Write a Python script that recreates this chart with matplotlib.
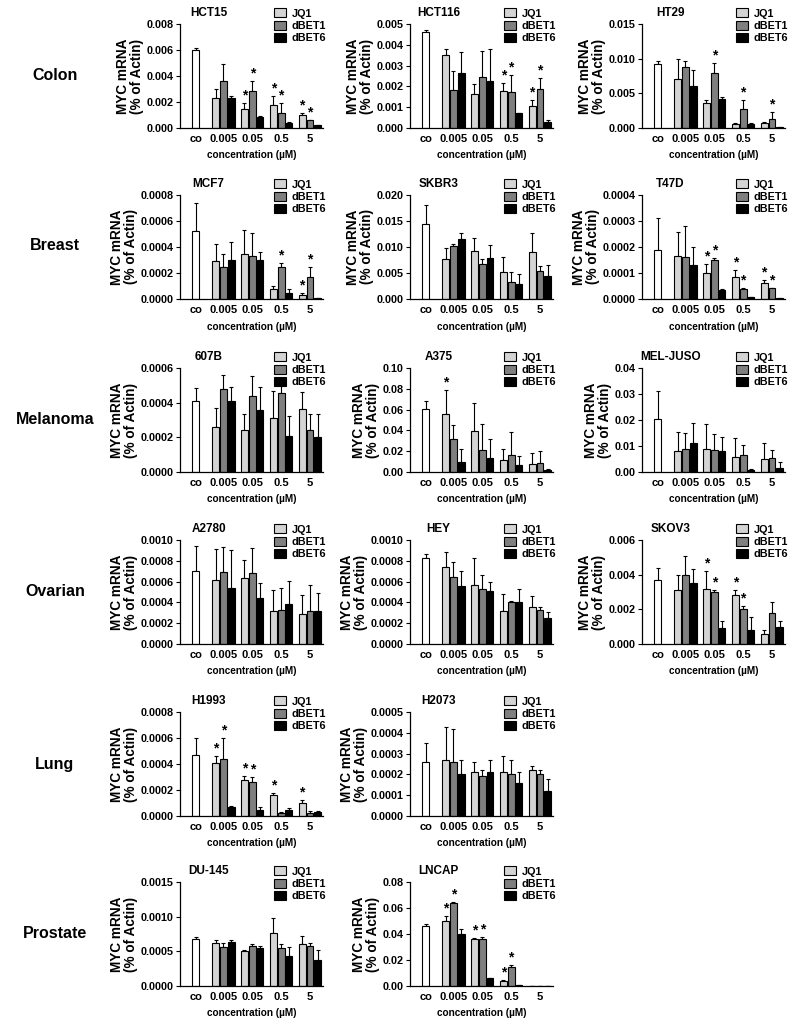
import numpy as np
import matplotlib.pyplot as plt
from matplotlib.patches import Patch
from matplotlib.ticker import FormatStrFormatter

plt.rcParams['font.family'] = ['Liberation Sans', 'DejaVu Sans']
plt.rcParams['font.weight'] = 'bold'

tissues = ['Colon', 'Breast', 'Melanoma', 'Ovarian', 'Lung', 'Prostate']
conc_labels = ['co', '0.005', '0.05', '0.5', '5']
treatments = ['JQ1', 'dBET1', 'dBET6']

# value order: co, JQ1 x4, dBET1 x4, dBET6 x4 (conc 0.005, 0.05, 0.5, 5)
hct15_mean = [0.0060, 0.00227, 0.00148, 0.00175, 0.00100, 0.00365, 0.00284, 0.00117, 0.00060, 0.00230, 0.00083, 0.00040, 0.00020]
hct15_sd = [0.00017, 0.00075, 0.00042, 0.00075, 0.00017, 0.00125, 0.0008, 0.00073, 0.00005, 0.0002, 0.00007, 0.00004, 0.00002]
hct15_star = [2, 3, 4, 6, 7, 8]

hct116_mean = [0.0046, 0.00352, 0.00162, 0.00178, 0.00104, 0.00182, 0.00247, 0.00174, 0.00187, 0.00263, 0.00224, 0.00073, 0.00028]
hct116_sd = [0.0001, 0.00028, 0.00048, 0.00036, 0.00029, 0.00094, 0.00121, 0.00082, 0.00053, 0.00102, 0.00156, 0.00001, 0.00009]
hct116_star = [3, 4, 7, 8]

ht29_mean = [0.0093, 0.0071, 0.0036, 0.00063, 0.00078, 0.0088, 0.0080, 0.0027, 0.0013, 0.0061, 0.0042, 0.0006, 0.0001]
ht29_sd = [0.0003, 0.0029, 0.0005, 0.0001, 0.0001, 0.0009, 0.0014, 0.0014, 0.00095, 0.0022, 0.0002, 0.0001, 0.0]
ht29_star = [6, 7, 8]

mcf7_mean = [0.00052, 0.00029, 0.00035, 0.00008, 0.00003, 0.00025, 0.00033, 0.00025, 0.00017, 0.0003, 0.0003, 0.00005, 0.00001]
mcf7_sd = [0.00022, 0.00013, 0.00018, 0.00002, 0.00002, 0.0001, 0.00018, 0.00003, 0.00008, 0.00014, 0.00006, 0.00003, 0.0]
mcf7_star = [4, 7, 8]

skbr3_mean = [0.0145, 0.0077, 0.0093, 0.0051, 0.0091, 0.0102, 0.0068, 0.0033, 0.0054, 0.0116, 0.0078, 0.0028, 0.0044]
skbr3_sd = [0.0036, 0.0022, 0.0025, 0.0029, 0.0036, 0.0004, 0.0009, 0.0018, 0.001, 0.001, 0.0026, 0.0021, 0.0022]
skbr3_star = []

t47d_mean = [0.00019, 0.000167, 0.0001, 0.000085, 0.000063, 0.000163, 0.00015, 0.00004, 0.000042, 0.00013, 0.000035, 0.000008, 0.000005]
t47d_sd = [0.00012, 0.00009, 0.000035, 0.000025, 0.000012, 0.000117, 0.000008, 0.000003, 0.000001, 0.00007, 0.000003, 0.000001, 0.0]
t47d_star = [2, 3, 4, 6, 7, 8]

b607_mean = [0.00041, 0.00026, 0.000245, 0.00031, 0.000365, 0.00048, 0.00044, 0.000455, 0.00024, 0.00041, 0.00036, 0.00021, 0.0002]
b607_sd = [0.000075, 0.00011, 0.00009, 0.00016, 0.000095, 0.00008, 0.000115, 0.000085, 0.000095, 0.00008, 0.00013, 0.000115, 0.000135]
b607_star = []

a375_mean = [0.061, 0.056, 0.039, 0.012, 0.0075, 0.032, 0.021, 0.016, 0.0085, 0.0095, 0.013, 0.0065, 0.002]
a375_sd = [0.007, 0.023, 0.027, 0.01, 0.0105, 0.013, 0.025, 0.022, 0.0115, 0.0125, 0.019, 0.0085, 0.001]
a375_star = [1]

meljuso_mean = [0.0205, 0.008, 0.009, 0.0057, 0.005, 0.009, 0.0083, 0.0065, 0.0053, 0.011, 0.008, 0.0008, 0.0015]
meljuso_sd = [0.0105, 0.0075, 0.0095, 0.0073, 0.0063, 0.006, 0.0062, 0.0037, 0.0032, 0.0077, 0.0055, 0.0004, 0.0022]
meljuso_star = []

a2780_mean = [0.0007, 0.00062, 0.00063, 0.00032, 0.00029, 0.00069, 0.00068, 0.00033, 0.00032, 0.00054, 0.00044, 0.00038, 0.00032]
a2780_sd = [0.00024, 0.00029, 0.00018, 0.0002, 0.00018, 0.00024, 0.00024, 0.00021, 0.00025, 0.00036, 0.00015, 0.00023, 0.00017]
a2780_star = []

hey_mean = [0.00083, 0.00074, 0.00057, 0.00032, 0.00036, 0.00064, 0.00053, 0.0004, 0.00033, 0.00056, 0.00051, 0.0004, 0.00025]
hey_sd = [0.00004, 0.00014, 0.00026, 0.00016, 0.0001, 0.00015, 0.00013, 0.00001, 0.00003, 0.00014, 0.00009, 0.00013, 0.00006]
hey_star = []

skov3_mean = [0.0037, 0.0031, 0.0032, 0.0028, 0.0006, 0.004, 0.003, 0.002, 0.0018, 0.0035, 0.0009, 0.0008, 0.001]
skov3_sd = [0.0007, 0.0009, 0.001, 0.0003, 0.0002, 0.0011, 0.0001, 0.0002, 0.0006, 0.0008, 0.00045, 0.00075, 0.0003]
skov3_star = [2, 3, 6, 7]

h1993_mean = [0.00047, 0.00041, 0.00028, 0.00016, 0.0001, 0.00044, 0.00026, 0.00002, 0.00002, 0.00007, 0.00005, 0.00005, 0.00003]
h1993_sd = [0.00013, 0.00005, 0.00003, 0.00002, 0.00002, 0.00016, 0.00004, 0.00001, 0.00002, 0.00001, 0.00002, 0.00001, 0.00001]
h1993_star = [1, 2, 3, 4, 5, 6]

h2073_mean = [0.00026, 0.00027, 0.00021, 0.00021, 0.00022, 0.00026, 0.00019, 0.0002, 0.0002, 0.0002, 0.00021, 0.00016, 0.00012]
h2073_sd = [0.00009, 0.00016, 0.00005, 0.00008, 0.00002, 0.00016, 0.00003, 0.00007, 0.00002, 0.00007, 0.00006, 0.00005, 0.00006]
h2073_star = []

du145_mean = [0.00068, 0.00062, 0.0005, 0.00077, 0.00061, 0.00056, 0.00058, 0.00055, 0.00058, 0.00063, 0.00055, 0.00043, 0.00037]
du145_sd = [0.00002, 0.00004, 0.00002, 0.00021, 0.00011, 0.00006, 0.00002, 0.00005, 0.00004, 0.00004, 0.00002, 0.00013, 0.00015]
du145_star = []

lncap_mean = [0.046, 0.05, 0.036, 0.004, 0.0003, 0.064, 0.036, 0.015, 0.0003, 0.04, 0.006, 0.0005, 0.0002]
lncap_sd = [0.002, 0.004, 0.001, 0.001, 0.0, 0.001, 0.002, 0.001, 0.0, 0.004, 0.0005, 0.0, 0.0]
lncap_star = [1, 2, 3, 5, 6, 7]

# row, col, title, ymax, ystep, tick format, data
panels = [
    (0, 0, 'HCT15', 0.008, 0.002, '%.3f', hct15_mean, hct15_sd, hct15_star),
    (0, 1, 'HCT116', 0.005, 0.001, '%.3f', hct116_mean, hct116_sd, hct116_star),
    (0, 2, 'HT29', 0.015, 0.005, '%.3f', ht29_mean, ht29_sd, ht29_star),
    (1, 0, 'MCF7', 0.0008, 0.0002, '%.4f', mcf7_mean, mcf7_sd, mcf7_star),
    (1, 1, 'SKBR3', 0.020, 0.005, '%.3f', skbr3_mean, skbr3_sd, skbr3_star),
    (1, 2, 'T47D', 0.0004, 0.0001, '%.4f', t47d_mean, t47d_sd, t47d_star),
    (2, 0, '607B', 0.0006, 0.0002, '%.4f', b607_mean, b607_sd, b607_star),
    (2, 1, 'A375', 0.10, 0.02, '%.2f', a375_mean, a375_sd, a375_star),
    (2, 2, 'MEL-JUSO', 0.04, 0.01, '%.2f', meljuso_mean, meljuso_sd, meljuso_star),
    (3, 0, 'A2780', 0.0010, 0.0002, '%.4f', a2780_mean, a2780_sd, a2780_star),
    (3, 1, 'HEY', 0.0010, 0.0002, '%.4f', hey_mean, hey_sd, hey_star),
    (3, 2, 'SKOV3', 0.006, 0.002, '%.3f', skov3_mean, skov3_sd, skov3_star),
    (4, 0, 'H1993', 0.0008, 0.0002, '%.4f', h1993_mean, h1993_sd, h1993_star),
    (4, 1, 'H2073', 0.0005, 0.0001, '%.4f', h2073_mean, h2073_sd, h2073_star),
    (5, 0, 'DU-145', 0.0015, 0.0005, '%.4f', du145_mean, du145_sd, du145_star),
    (5, 1, 'LNCAP', 0.08, 0.02, '%.2f', lncap_mean, lncap_sd, lncap_star),
]

W, H = 792, 1024
fig = plt.figure(figsize=(W / 100, H / 100), dpi=100)

col_left = [180, 410, 642]
row_top = [24, 195, 368, 540, 712, 882]
ax_w, ax_h = 143, 104
row_label_y = [75, 246, 420, 592, 764, 934]

colors = ['#d4d4d4', '#7f7f7f', '#000000']
bw = 0.24
group_x = np.array([0.95, 1.95, 2.95, 3.95])
offs = [-0.27, 0.0, 0.27]

for r, c, title, ymax, ystep, fmt, mean, sd, star in panels:
    left = col_left[c] / W
    bottom = 1 - (row_top[r] + ax_h) / H
    ax = fig.add_axes([left, bottom, ax_w / W, ax_h / H])

    xs = [0.0]
    for k in range(3):
        xs += list(group_x + offs[k])
    xs = np.array(xs)
    mean = np.array(mean)
    sd = np.array(sd)

    fc = ['white'] + [colors[0]] * 4 + [colors[1]] * 4 + [colors[2]] * 4
    ax.bar(xs, mean, width=bw, color=fc, edgecolor='black', linewidth=0.8, zorder=2)
    ax.errorbar(xs, mean, yerr=[np.zeros_like(sd), sd], fmt='none', ecolor='black',
                elinewidth=0.8, capsize=1.5, capthick=0.8, zorder=1)
    for i in star:
        ax.text(xs[i], mean[i] + sd[i] + ymax * 0.005, '*', ha='center', va='bottom',
                fontsize=10, fontweight='bold')

    ax.set_xlim(-0.55, 4.4)
    ax.set_ylim(0, ymax)
    ax.set_yticks(np.arange(0, ymax + ystep / 2, ystep))
    ax.yaxis.set_major_formatter(FormatStrFormatter(fmt))
    ax.set_xticks([0.0] + list(group_x))
    ax.set_xticklabels(conc_labels)
    ax.tick_params(axis='x', length=0, labelsize=8, pad=4)
    ax.tick_params(axis='y', length=3, width=0.8, labelsize=7.8, pad=1.5)
    for s in ['top', 'right']:
        ax.spines[s].set_visible(False)
    for s in ['left', 'bottom']:
        ax.spines[s].set_linewidth(0.9)

    ax.set_ylabel('MYC mRNA\n(% of Actin)', fontsize=9.8, fontweight='bold', labelpad=2,
                  linespacing=1.0)
    ax.set_xlabel('concentration (µM)', fontsize=7.2, fontweight='bold', labelpad=5)
    ax.text(0.2, 1.11, title, transform=ax.transAxes, ha='center', va='center',
            fontsize=8.5, fontweight='bold')

    handles = [Patch(facecolor=colors[k], edgecolor='black', linewidth=0.8) for k in range(3)]
    ax.legend(handles, treatments, loc='upper left', bbox_to_anchor=(0.66, 1.15),
              frameon=False, fontsize=7.8, handlelength=1.1, handleheight=0.9,
              handletextpad=0.5, labelspacing=0.2, borderaxespad=0, borderpad=0)

for i, t in enumerate(tissues):
    fig.text(55 / W, 1 - row_label_y[i] / H, t, ha='center', va='center',
             fontsize=11.5, fontweight='bold')

fig.savefig('out.png', dpi=100)
